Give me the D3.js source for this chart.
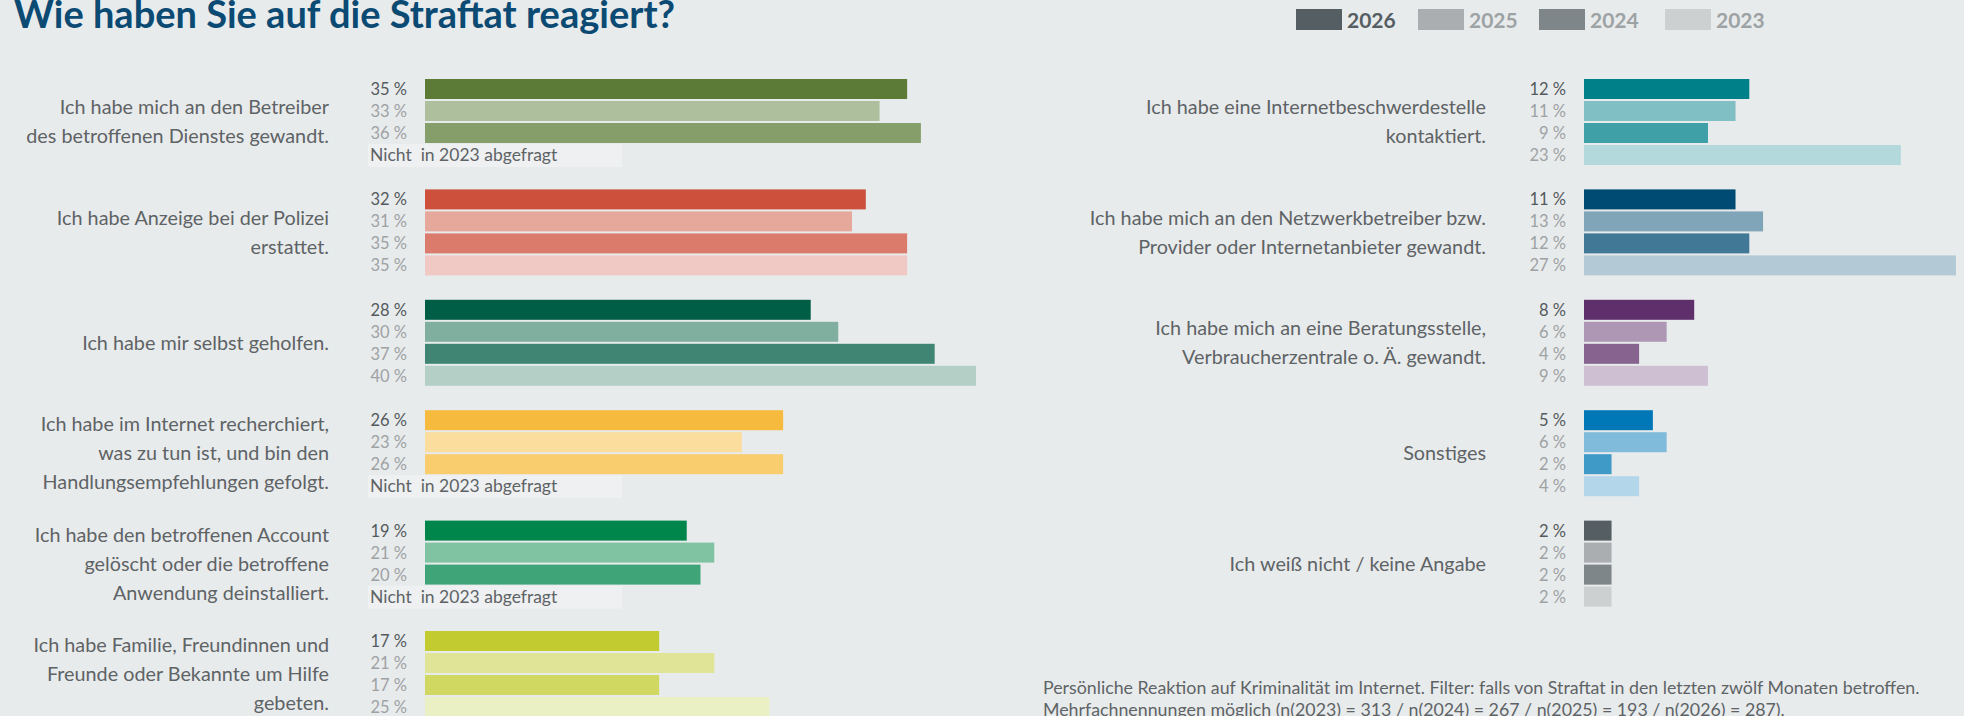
<!DOCTYPE html>
<html>
<head>
<meta charset="utf-8">
<script src="https://cdn.jsdelivr.net/npm/d3@7"></script>
<style>
  body { margin: 0; background: #e8ebec; }
  svg { display: block; font-family: Lato, "Open Sans", sans-serif; }
</style>
</head>
<body>
<svg width="1964" height="716"></svg>
<script>
const svg = d3.select("svg");

const width = +svg.attr("width");
const height = +svg.attr("height");

// data
const years = ["2026", "2025", "2024", "2023"];

const leftLabels = [
  ["Ich habe mich an den Betreiber", "des betroffenen Dienstes gewandt."],
  ["Ich habe Anzeige bei der Polizei", "erstattet."],
  ["Ich habe mir selbst geholfen."],
  ["Ich habe im Internet recherchiert,", "was zu tun ist, und bin den", "Handlungsempfehlungen gefolgt."],
  ["Ich habe den betroffenen Account", "gelöscht oder die betroffene", "Anwendung deinstalliert."],
  ["Ich habe Familie, Freundinnen und", "Freunde oder Bekannte um Hilfe", "gebeten."]
];
const left2026 = [35, 32, 28, 26, 19, 17];
const left2025 = [33, 31, 30, 23, 21, 21];
const left2024 = [36, 35, 37, 26, 20, 17];
const left2023 = [null, 35, 40, null, null, 25];

const rightLabels = [
  ["Ich habe eine Internetbeschwerdestelle", "kontaktiert."],
  ["Ich habe mich an den Netzwerkbetreiber bzw.", "Provider oder Internetanbieter gewandt."],
  ["Ich habe mich an eine Beratungsstelle,", "Verbraucherzentrale o. Ä. gewandt."],
  ["Sonstiges"],
  ["Ich weiß nicht / keine Angabe"]
];
const right2026 = [12, 11, 8, 5, 2];
const right2025 = [11, 13, 6, 6, 2];
const right2024 = [9, 12, 4, 2, 2];
const right2023 = [23, 27, 9, 4, 2];

const notAsked = "Nicht  in 2023 abgefragt";

// colours per category, in year order 2026, 2025, 2024, 2023
const leftColors = [
  ["#5b7b37", "#adbf9c", "#869e6a", "#d6dfcd"],
  ["#cd503c", "#e7a89c", "#da7b6b", "#f0c9c4"],
  ["#005d46", "#80ae9f", "#408574", "#b3cfc6"],
  ["#f6bb3e", "#fbdd9d", "#f9cc6e", "#fdebc5"],
  ["#00864a", "#80c3a3", "#40a479", "#b3dbc9"],
  ["#c2cb2f", "#e0e496", "#d1d862", "#ebefc4"]
];
const rightColors = [
  ["#008089", "#80bfc4", "#40a0a7", "#b3d9dc"],
  ["#004b73", "#80a5b9", "#407896", "#b3c9d5"],
  ["#5e2f6b", "#ae97b5", "#86648f", "#cfbfd3"],
  ["#0077b6", "#80bbdb", "#409ac8", "#b3d6ea"],
  ["#555e62", "#aaaeb0", "#7f8689", "#ccd0d1"]
];
const legendColors = ["#555e62", "#aaaeb0", "#7f8689", "#ccd0d1"];

const toGroups = (labels, s26, s25, s24, s23, colors) =>
  labels.map((lines, i) => ({
    lines,
    values: [s26[i], s25[i], s24[i], s23[i]],
    colors: colors[i]
  }));

const leftGroups = toGroups(leftLabels, left2026, left2025, left2024, left2023, leftColors);
const rightGroups = toGroups(rightLabels, right2026, right2025, right2024, right2023, rightColors);

// scales
const groupY = d3.scaleLinear().domain([0, 1]).range([79, 189.4]);
const rowY = d3.scaleBand().domain(years).range([0, 86]).paddingInner(2 / 22);
const xLen = d3.scaleLinear().domain([0, 40]).range([0, 551]);

// title
svg.append("text")
  .attr("x", 14)
  .attr("y", 28)
  .attr("font-size", 38)
  .attr("font-weight", 700)
  .attr("fill", "#0b4a72")
  .text("Wie haben Sie auf die Straftat reagiert?");

// legend
const legendX = [1296, 1418, 1539, 1665];
const legend = svg.append("g");
years.forEach((yr, i) => {
  legend.append("rect")
    .attr("x", legendX[i]).attr("y", 9)
    .attr("width", 46).attr("height", 21)
    .attr("fill", legendColors[i]);
  legend.append("text")
    .attr("x", legendX[i] + 51).attr("y", 28)
    .attr("font-size", 21).attr("font-weight", 700)
    .attr("fill", i === 0 ? "#555e62" : "#9da2a4")
    .text(yr);
});

const panel = (groups, opts) => {
  const { labelX, pctX, barX } = opts;
  const g = svg.append("g");

  const grp = g.selectAll("g.group").data(groups).join("g")
    .attr("class", "group")
    .attr("transform", (d, i) => `translate(0,${groupY(i)})`);

  // category labels
  grp.each(function (d) {
    const sel = d3.select(this);
    const n = d.lines.length;
    const lh = 29;
    const c = 43;
    sel.selectAll("text.cat").data(d.lines).join("text")
      .attr("class", "cat")
      .attr("x", labelX)
      .attr("y", (l, j) => c + (j - (n - 1) / 2) * lh)
      .attr("dy", "0.35em")
      .attr("text-anchor", "end")
      .attr("font-size", 19.8)
      .attr("fill", "#5e6366")
      .text(l => l);

    const rows = d.values.map((v, j) => ({ v, year: years[j], color: d.colors[j], j }));

    sel.selectAll("rect.bar").data(rows.filter(r => r.v != null)).join("rect")
      .attr("class", "bar")
      .attr("x", barX)
      .attr("y", r => rowY(r.year))
      .attr("width", r => xLen(r.v))
      .attr("height", rowY.bandwidth())
      .attr("fill", r => r.color);

    sel.selectAll("text.pct").data(rows.filter(r => r.v != null)).join("text")
      .attr("class", "pct")
      .attr("x", pctX)
      .attr("y", r => rowY(r.year) + rowY.bandwidth() / 2)
      .attr("dy", "0.36em")
      .attr("text-anchor", "end")
      .attr("font-size", 16.5)
      .attr("fill", r => r.j === 0 ? "#545a5d" : "#9ea2a4")
      .text(r => `${r.v} %`);

    // not asked in 2023
    const missing = rows.filter(r => r.v == null);
    sel.selectAll("rect.na").data(missing).join("rect")
      .attr("class", "na")
      .attr("x", pctX - 39)
      .attr("y", r => rowY(r.year) - 1)
      .attr("width", 254)
      .attr("height", 23)
      .attr("fill", "#eef0f1");
    sel.selectAll("text.na").data(missing).join("text")
      .attr("class", "na")
      .attr("x", pctX - 37)
      .attr("y", r => rowY(r.year) + rowY.bandwidth() / 2)
      .attr("dy", "0.36em")
      .attr("font-size", 17.5)
      .attr("fill", "#5e6366")
      .attr("xml:space", "preserve")
      .style("white-space", "pre")
      .text(notAsked);
  });
};

panel(leftGroups, { labelX: 329, pctX: 407, barX: 425 });
panel(rightGroups, { labelX: 1486, pctX: 1566, barX: 1584 });

// footnote
const note = svg.append("text")
  .attr("x", 1043)
  .attr("font-size", 17.8)
  .attr("fill", "#5e6366");
note.append("tspan").attr("x", 1043).attr("y", 694)
  .text("Persönliche Reaktion auf Kriminalität im Internet. Filter: falls von Straftat in den letzten zwölf Monaten betroffen.");
note.append("tspan").attr("x", 1043).attr("y", 716)
  .text("Mehrfachnennungen möglich (n(2023) = 313 / n(2024) = 267 / n(2025) = 193 / n(2026) = 287).");
</script>
</body>
</html>
